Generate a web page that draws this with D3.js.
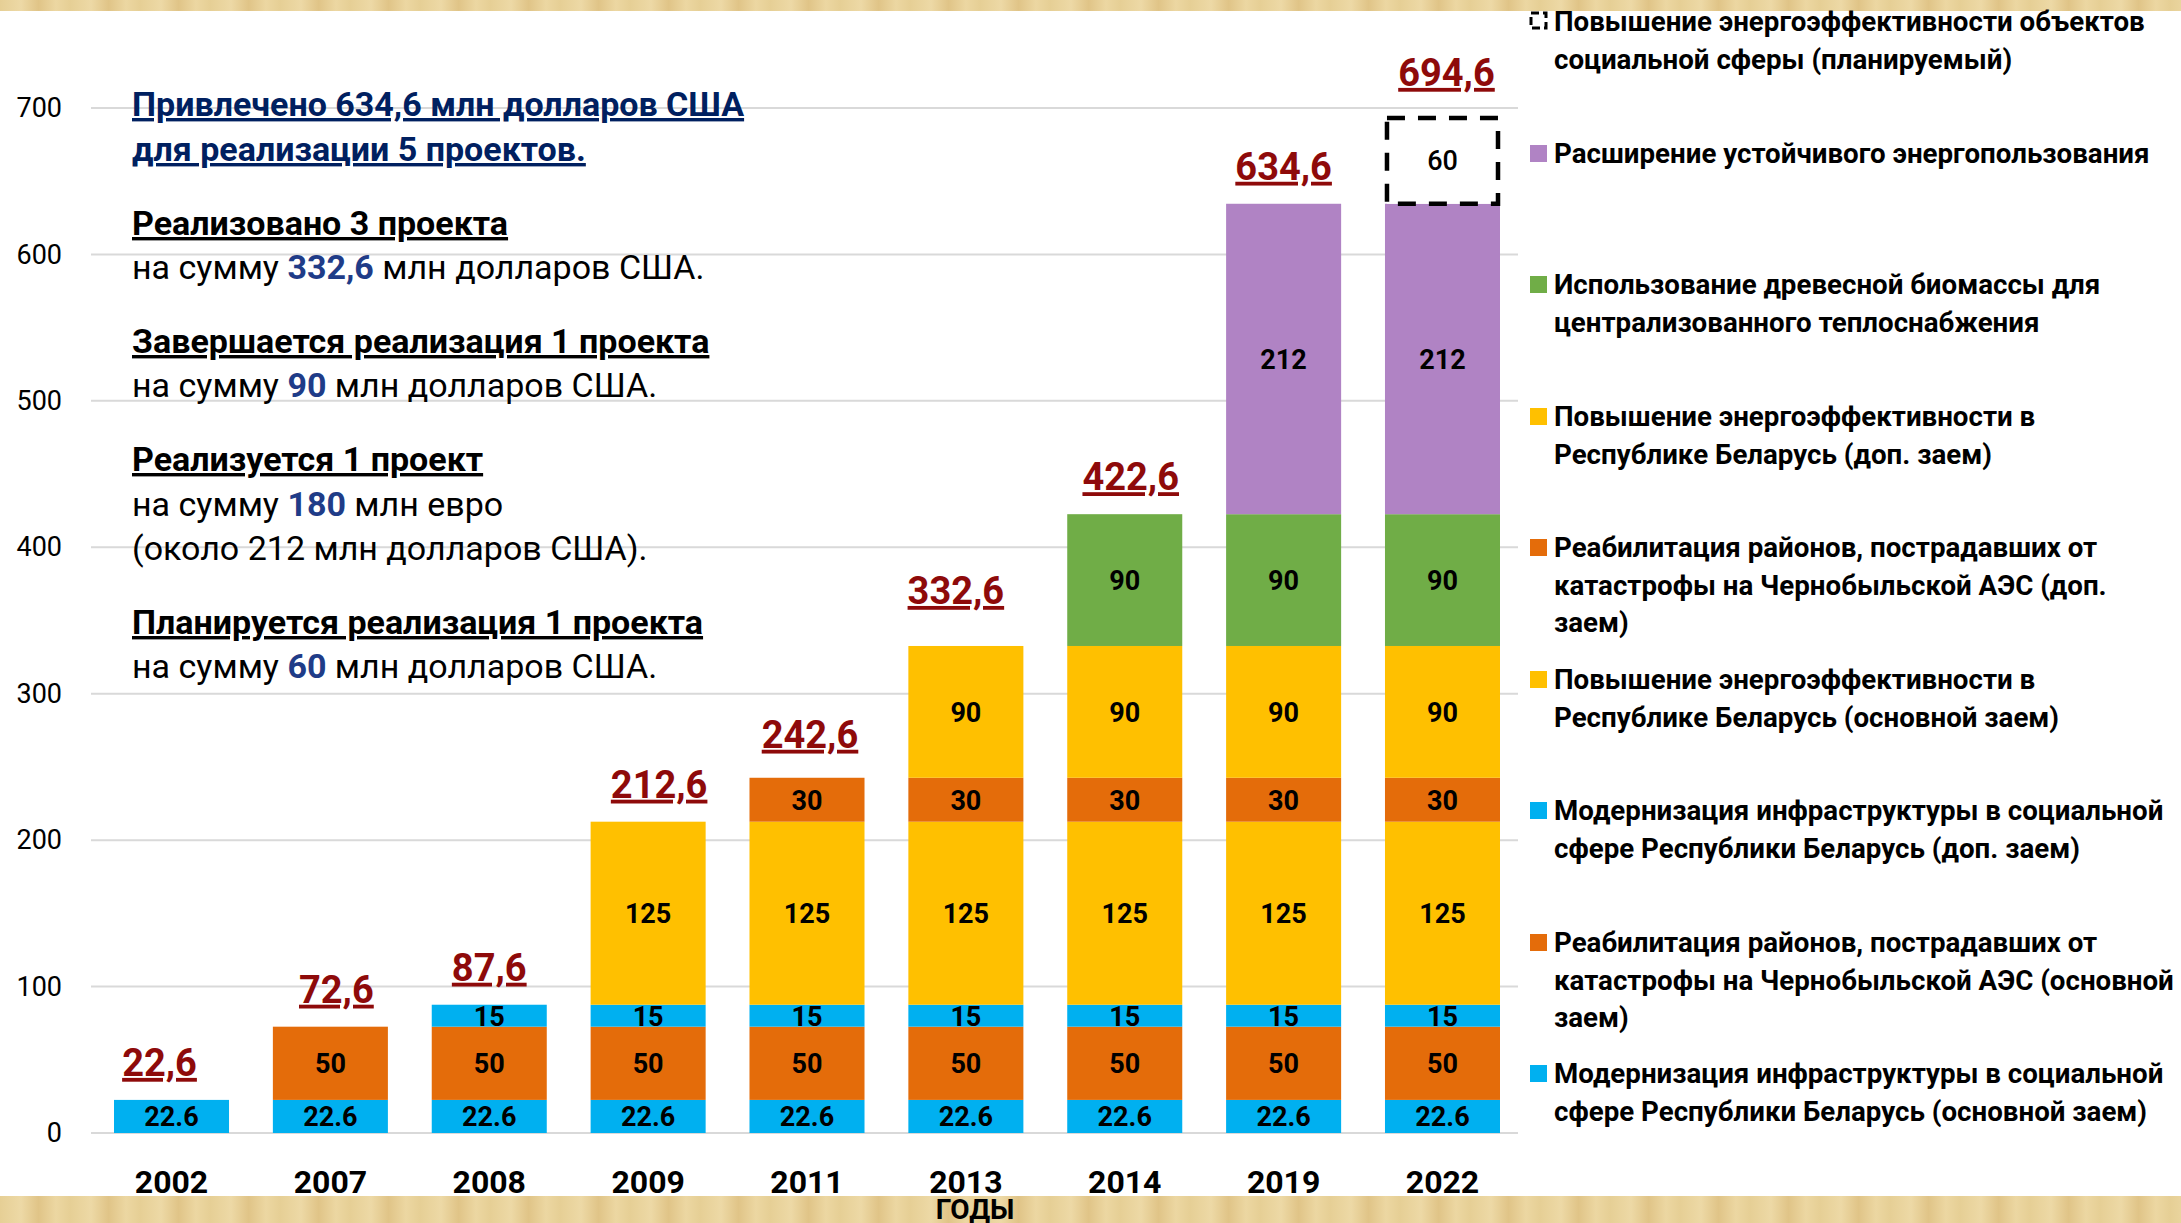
<!DOCTYPE html>
<html>
<head>
<meta charset="utf-8">
<script src="https://cdn.jsdelivr.net/npm/d3@7"></script>
<style>
  html, body { margin: 0; padding: 0; background: #fff; }
  svg text { font-family: Roboto, "Noto Sans", sans-serif; }
</style>
</head>
<body>
<div id="chart"></div>
<script>
// years on the x axis
var years = ["2002", "2007", "2008", "2009", "2011", "2013", "2014", "2019", "2022"];

// series values, bottom to top
var modernMain  = [22.6, 22.6, 22.6, 22.6, 22.6, 22.6, 22.6, 22.6, 22.6];
var rehabMain   = [0, 50, 50, 50, 50, 50, 50, 50, 50];
var modernExtra = [0, 0, 15, 15, 15, 15, 15, 15, 15];
var effMain     = [0, 0, 0, 125, 125, 125, 125, 125, 125];
var rehabExtra  = [0, 0, 0, 0, 30, 30, 30, 30, 30];
var effExtra    = [0, 0, 0, 0, 0, 90, 90, 90, 90];
var biomass     = [0, 0, 0, 0, 0, 0, 90, 90, 90];
var sustainable = [0, 0, 0, 0, 0, 0, 0, 212, 212];
var planned     = [0, 0, 0, 0, 0, 0, 0, 0, 60];

var yTicks = [0, 100, 200, 300, 400, 500, 600, 700];

var seriesKeys = ["modernMain", "rehabMain", "modernExtra", "effMain", "rehabExtra",
                  "effExtra", "biomass", "sustainable", "planned"];
var seriesValues = [modernMain, rehabMain, modernExtra, effMain, rehabExtra,
                    effExtra, biomass, sustainable, planned];
var seriesColors = ["#00B0F0", "#E46C0A", "#00B0F0", "#FFC000", "#E46C0A",
                    "#FFC000", "#70AD47", "#B083C4", "none"];

// legend, top to bottom
var legendItems = [
  {key: "planned", lines: ["Повышение энергоэффективности объектов", "социальной сферы (планируемый)"]},
  {key: "sustainable", lines: ["Расширение устойчивого энергопользования"]},
  {key: "biomass", lines: ["Использование древесной биомассы для", "централизованного теплоснабжения"]},
  {key: "effExtra", lines: ["Повышение энергоэффективности в", "Республике Беларусь (доп. заем)"]},
  {key: "rehabExtra", lines: ["Реабилитация районов, пострадавших от", "катастрофы на Чернобыльской АЭС (доп.", "заем)"]},
  {key: "effMain", lines: ["Повышение энергоэффективности в", "Республике Беларусь  (основной заем)"]},
  {key: "modernExtra", lines: ["Модернизация инфраструктуры в социальной", "сфере Республики Беларусь (доп. заем)"]},
  {key: "rehabMain", lines: ["Реабилитация районов, пострадавших от", "катастрофы на Чернобыльской АЭС (основной", "заем)"]},
  {key: "modernMain", lines: ["Модернизация инфраструктуры в социальной", "сфере Республики Беларусь  (основной заем)"]}
];

// annotation text on the left: [text, style] runs per line
var notes = [
  {runs: [["Привлечено 634,6 млн долларов США", "t"]]},
  {runs: [["для реализации 5 проектов.", "t"]]},
  {runs: [["Реализовано 3 проекта", "h"]]},
  {runs: [["на сумму ", "b"], ["332,6", "n"], [" млн долларов США.", "b"]]},
  {runs: [["Завершается реализация 1 проекта", "h"]]},
  {runs: [["на сумму ", "b"], ["90", "n"], [" млн долларов США.", "b"]]},
  {runs: [["Реализуется 1 проект", "h"]]},
  {runs: [["на сумму ", "b"], ["180", "n"], [" млн евро", "b"]]},
  {runs: [["(около 212 млн долларов США).", "b"]]},
  {runs: [["Планируется реализация 1 проекта", "h"]]},
  {runs: [["на сумму ", "b"], ["60", "n"], [" млн долларов США.", "b"]]}
];
var noteCenters = [104, 149, 223, 267, 341, 385, 459, 503.5, 548, 622, 666];

var W = 2181, H = 1223;
var svg = d3.select("#chart").append("svg")
  .attr("width", W)
  .attr("height", H);

// papyrus strips
var defs = svg.append("defs");
var grad = defs.append("linearGradient").attr("id", "papyrus")
  .attr("gradientUnits", "userSpaceOnUse")
  .attr("x1", 0).attr("x2", 70).attr("y1", 0).attr("y2", 0)
  .attr("spreadMethod", "repeat");
[["0%", "#E6CF95"], ["30%", "#EDD9A6"], ["55%", "#E0C487"], ["80%", "#ECD7A2"], ["100%", "#E6CF95"]]
  .forEach(function(s) { grad.append("stop").attr("offset", s[0]).attr("stop-color", s[1]); });

svg.append("rect").attr("x", 0).attr("y", 0).attr("width", W).attr("height", 11).attr("fill", "url(#papyrus)");
svg.append("rect").attr("x", 0).attr("y", 1196).attr("width", W).attr("height", H - 1196).attr("fill", "url(#papyrus)");

var x = d3.scaleBand()
  .domain(years)
  .range([114, 1500])
  .paddingInner(0.276)
  .paddingOuter(0);

var y = d3.scaleLinear()
  .domain([0, 700])
  .range([1133, 108]);

// gridlines
svg.append("g")
  .selectAll("line")
  .data(yTicks)
  .enter()
  .append("line")
  .attr("x1", 91)
  .attr("x2", 1518)
  .attr("y1", d => y(d))
  .attr("y2", d => y(d))
  .attr("stroke", "#D9D9D9")
  .attr("stroke-width", 2);

// y axis labels
var leftAxis = d3.axisLeft(y).tickValues(yTicks).tickSize(0).tickPadding(0);
var yAxisG = svg.append("g")
  .attr("transform", "translate(62,0)")
  .call(leftAxis);
yAxisG.select(".domain").remove();
yAxisG.selectAll("text")
  .attr("font-size", 27)
  .attr("fill", "#000")
  .style("font-family", "Roboto, sans-serif");

// x axis labels
var bottomAxis = d3.axisBottom(x).tickSize(0).tickPadding(0);
var xAxisG = svg.append("g")
  .attr("transform", "translate(0,1193)")
  .call(bottomAxis);
xAxisG.select(".domain").remove();
xAxisG.selectAll("text")
  .attr("dy", 0)
  .attr("font-size", 32)
  .attr("font-weight", "bold")
  .attr("fill", "#000")
  .style("font-family", "Roboto, sans-serif");

// stacked data
var table = years.map(function(yr, i) {
  var row = {year: yr};
  seriesKeys.forEach(function(k, j) { row[k] = seriesValues[j][i]; });
  return row;
});
var stacked = d3.stack().keys(seriesKeys)(table);

var layers = svg.append("g")
  .selectAll("g")
  .data(stacked)
  .enter()
  .append("g");

var fmtSeg = d3.format(".1~f");
layers.each(function(layer, li) {
  var g = d3.select(this);
  var segs = layer.filter(d => d[1] - d[0] > 0);
  var isPlanned = layer.key === "planned";
  g.selectAll("rect")
    .data(segs)
    .enter()
    .append("rect")
    .attr("x", d => x(d.data.year) + (isPlanned ? 2 : 0))
    .attr("width", x.bandwidth() - (isPlanned ? 4 : 0))
    .attr("y", d => y(d[1]) + (isPlanned ? 2 : 0))
    .attr("height", d => y(d[0]) - y(d[1]) - (isPlanned ? 2 : 0))
    .attr("fill", isPlanned ? "#fff" : seriesColors[li])
    .attr("stroke", isPlanned ? "#000" : "none")
    .attr("stroke-width", isPlanned ? 4.5 : 0)
    .attr("stroke-dasharray", isPlanned ? "18,13" : null);

  g.selectAll("text")
    .data(segs)
    .enter()
    .append("text")
    .attr("x", d => x(d.data.year) + x.bandwidth() / 2)
    .attr("y", d => (y(d[0]) + y(d[1])) / 2 + 10)
    .attr("text-anchor", "middle")
    .attr("font-size", 27)
    .attr("font-weight", isPlanned ? 500 : "bold")
    .attr("fill", "#000")
    .text(d => fmtSeg(d[1] - d[0]));
});

// totals above bars (hand-placed labels in the original sit slightly off centre)
var totalNudge = {
  "2002": [-12, 0], "2007": [6, 0], "2009": [11, 0], "2011": [3, 6],
  "2013": [-10, 18], "2014": [6, 0], "2022": [4, 6]
};
var fmtTotal = d3.format(".1f");
svg.append("g")
  .selectAll("text")
  .data(table)
  .enter()
  .append("text")
  .attr("x", d => x(d.year) + x.bandwidth() / 2 + (totalNudge[d.year] ? totalNudge[d.year][0] : 0))
  .attr("y", d => y(d3.sum(seriesKeys, k => d[k])) - 24 - (totalNudge[d.year] ? totalNudge[d.year][1] : 0))
  .attr("text-anchor", "middle")
  .attr("font-size", 38)
  .attr("font-weight", "bold")
  .attr("fill", "#8E0A0A")
  .style("text-decoration", "underline")
  .text(d => fmtTotal(d3.sum(seriesKeys, k => d[k])).replace(".", ","));

// axis title
svg.append("text")
  .attr("x", 975)
  .attr("y", 1219)
  .attr("text-anchor", "middle")
  .attr("font-size", 28)
  .attr("font-weight", "bold")
  .attr("fill", "#000")
  .text("ГОДЫ");

// left annotations
var noteG = svg.append("g");
notes.forEach(function(n, i) {
  var t = noteG.append("text")
    .attr("x", 132)
    .attr("y", noteCenters[i] + 12)
    .attr("font-size", 34);
  n.runs.forEach(function(r) {
    var sp = t.append("tspan").text(r[0]);
    if (r[1] === "t") sp.attr("fill", "#002060").attr("font-weight", "bold").style("text-decoration", "underline");
    if (r[1] === "h") sp.attr("fill", "#000").attr("font-weight", "bold").style("text-decoration", "underline");
    if (r[1] === "b") sp.attr("fill", "#000");
    if (r[1] === "n") sp.attr("fill", "#1F3C88").attr("font-weight", "bold");
  });
});

// legend
var legendTops = [21, 153, 284, 416, 547, 679, 810, 942, 1073];
var legendG = svg.append("g");
legendItems.forEach(function(item, i) {
  var idx = seriesKeys.indexOf(item.key);
  var cy = legendTops[i];
  if (item.key === "planned") {
    legendG.append("rect")
      .attr("x", 1531).attr("y", cy - 8)
      .attr("width", 15).attr("height", 15)
      .attr("fill", "#fff")
      .attr("stroke", "#000")
      .attr("stroke-width", 3)
      .attr("stroke-dasharray", "8,4");
  } else {
    legendG.append("rect")
      .attr("x", 1530).attr("y", cy - 8)
      .attr("width", 17).attr("height", 17)
      .attr("fill", seriesColors[idx]);
  }
  item.lines.forEach(function(line, j) {
    legendG.append("text")
      .attr("x", 1554)
      .attr("y", cy + j * 37.5 + 10)
      .attr("font-size", 27.7)
      .attr("font-weight", "bold")
      .attr("fill", "#000")
      .text(line);
  });
});
</script>
</body>
</html>
